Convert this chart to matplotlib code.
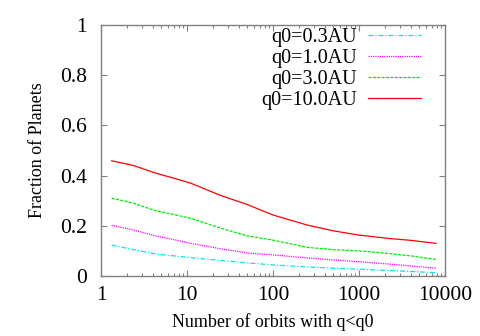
# Fraction of planets vs number of orbits with q<q0 (gnuplot-style log plot)
import matplotlib
matplotlib.use("Agg")
import matplotlib.pyplot as plt
from matplotlib.ticker import FixedLocator, FixedFormatter, LogLocator, NullFormatter

# Data
n_orbits = [1.33, 2.4, 4.3, 7, 11, 25, 50, 100, 250, 500, 1000, 2150, 4000, 7850]
frac_q03 = [0.123, 0.105, 0.088, 0.080, 0.073, 0.062, 0.052, 0.044, 0.036, 0.031, 0.027, 0.022, 0.018, 0.013]
frac_q10 = [0.202, 0.183, 0.160, 0.145, 0.130, 0.108, 0.092, 0.084, 0.072, 0.064, 0.057, 0.048, 0.040, 0.031]
frac_q30 = [0.310, 0.290, 0.260, 0.245, 0.230, 0.190, 0.160, 0.143, 0.114, 0.105, 0.100, 0.090, 0.080, 0.066]
frac_q100 = [0.459, 0.440, 0.410, 0.390, 0.370, 0.320, 0.285, 0.243, 0.203, 0.180, 0.163, 0.150, 0.142, 0.130]

labels = ["q0=0.3AU", "q0=1.0AU", "q0=3.0AU", "q0=10.0AU"]
x_ticks = [1, 10, 100, 1000, 10000]
x_ticklabels = ["1", "10", "100", "1000", "10000"]
y_ticks = [0, 0.2, 0.4, 0.6, 0.8, 1]
y_ticklabels = ["0", "0.2", "0.4", "0.6", "0.8", "1"]

plt.rcParams["font.family"] = "Liberation Serif"
plt.rcParams["font.size"] = 13

fig = plt.figure(figsize=(4.8, 3.36), dpi=100)
ax = fig.add_axes([0.2104, 0.1786, 0.7166, 0.747])

styles = [
    ("#00e8e8", (0, (4, 1.5, 1, 1.5))),
    ("#ff00ff", (0, (1, 0.8))),
    ("#00ee00", (0, (2.5, 1))),
    ("#ff0000", "-"),
]
for series, label, (color, ls) in zip([frac_q03, frac_q10, frac_q30, frac_q100], labels, styles):
    ax.plot(n_orbits, series, color=color, linestyle=ls, linewidth=0.9, label=label)

ax.set_xscale("log")
ax.set_xlim(1, 10000)
ax.set_ylim(0, 1)
ax.xaxis.set_major_locator(FixedLocator(x_ticks))
ax.xaxis.set_major_formatter(FixedFormatter(x_ticklabels))
ax.xaxis.set_minor_locator(LogLocator(base=10, subs=range(2, 10)))
ax.xaxis.set_minor_formatter(NullFormatter())
ax.yaxis.set_major_locator(FixedLocator(y_ticks))
ax.yaxis.set_major_formatter(FixedFormatter(y_ticklabels))

# Gray box with inward ticks on all sides
for spine in ax.spines.values():
    spine.set_color("#808080")
    spine.set_linewidth(1)
ax.tick_params(axis="both", which="both", direction="in", top=True, right=True,
               color="#808080", width=0.8, labelsize=15.5)
ax.tick_params(axis="both", which="major", length=4)
ax.tick_params(axis="both", which="minor", length=2)
ax.tick_params(axis="y", pad=10)
ax.tick_params(axis="x", pad=7)

ax.set_xlabel("Number of orbits with q<q0", labelpad=6)
ax.set_ylabel("Fraction of Planets", labelpad=10)

ax.legend(loc="upper right", bbox_to_anchor=(0.96, 1.03), frameon=False,
          markerfirst=False, handlelength=2.65, handletextpad=0.55,
          labelspacing=0.1, borderpad=0, fontsize=14.5)

fig.savefig("out.png", dpi=100)
